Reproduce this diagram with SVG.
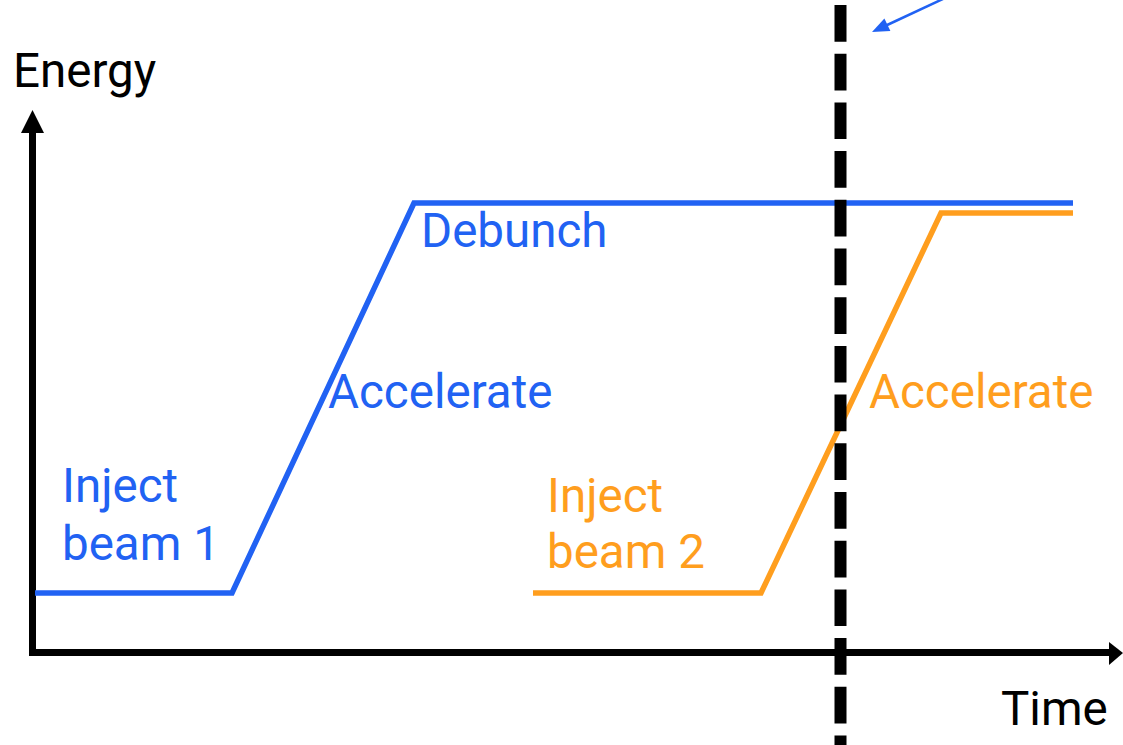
<svg xmlns="http://www.w3.org/2000/svg" width="1123" height="745" viewBox="0 0 1123 745">
<style>
.lbl{font-family:Roboto,"Liberation Sans",sans-serif;font-size:47.5px}
.blue{fill:#2162F3}
.orange{fill:#FF9E1E}
.blk{fill:#000}
.line{fill:none;stroke-width:5.5;stroke-linejoin:miter}
</style>
<rect width="1123" height="745" fill="#fff"/>
<g id="axes">
<polyline points="32.5,130 32.5,652.5 1112,652.5" fill="none" stroke="#000" stroke-width="7" stroke-linejoin="miter"/>
<polygon points="32.5,110 21,133 44,133" fill="#000"/>
<polygon points="1123,653 1109,642 1109,665" fill="#000"/>
<text class="lbl blk" x="13" y="87">Energy</text>
<text class="lbl blk" x="1001" y="725">Time</text>
</g>
<g id="beam1">
<polyline class="line" points="35,593 232,593 414,203 1073,203" stroke="#2162F3"/>
<text class="lbl blue" x="421" y="247">Debunch</text>
<text class="lbl blue" x="328" y="408">Accelerate</text>
<text class="lbl blue" x="62" y="502">Inject</text>
<text class="lbl blue" x="62" y="560">beam 1</text>
</g>
<g id="beam2">
<polyline class="line" points="533,593 761,593 941,213 1073,213" stroke="#FF9E1E"/>
<text class="lbl orange" x="869" y="408">Accelerate</text>
<text class="lbl orange" x="547" y="512">Inject</text>
<text class="lbl orange" x="547" y="568">beam 2</text>
</g>
<g id="connectors">
<line x1="840.5" y1="5" x2="840.5" y2="745" stroke="#000" stroke-width="12" stroke-dasharray="36.7 12"/>
<line x1="945" y1="-2" x2="885" y2="26" stroke="#2162F3" stroke-width="2.5"/>
<polygon points="872,32 884.4,18.5 890.4,31.1" fill="#2162F3"/>
</g>
</svg>
